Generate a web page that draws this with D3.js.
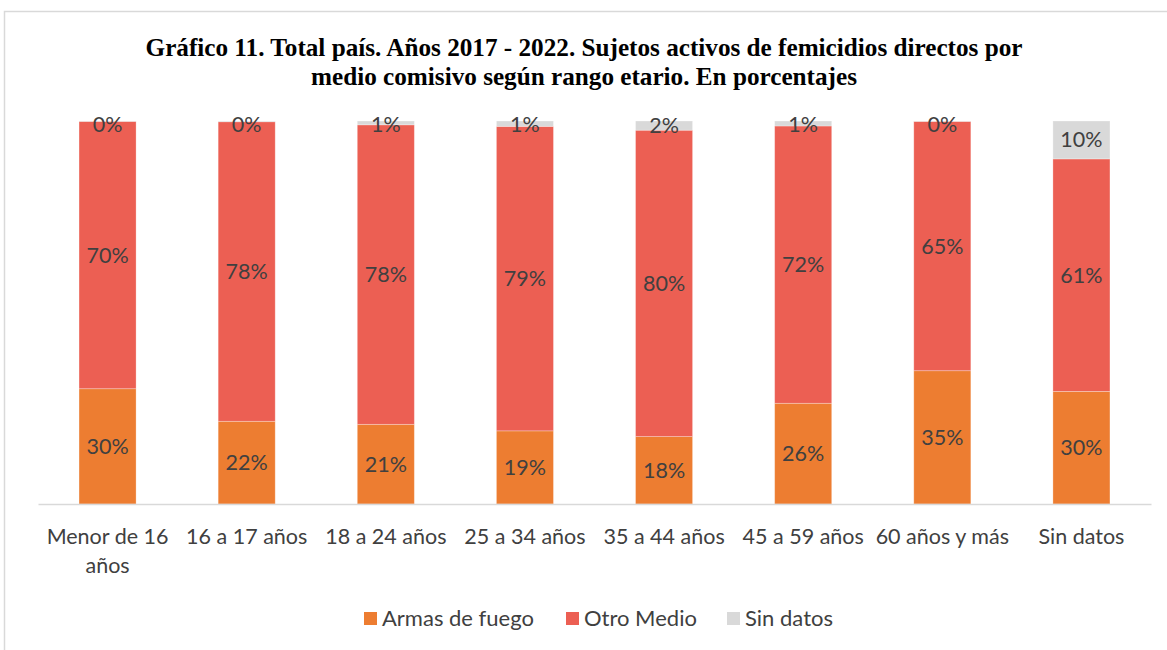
<!DOCTYPE html>
<html>
<head>
<meta charset="utf-8">
<script src="https://cdn.jsdelivr.net/npm/d3@7"></script>
<style>
  body { margin: 0; background: #fff; }
  svg text { font-family: Lato, "Open Sans", sans-serif; }
</style>
</head>
<body>
<div id="chart"></div>
<script>
const categories = ["Menor de 16 años", "16 a 17 años", "18 a 24 años", "25 a 34 años",
                    "35 a 44 años", "45 a 59 años", "60 años y más", "Sin datos"];
const armas = [30.1, 21.6, 20.8, 19.1, 17.6, 26.3, 34.8, 29.4];
const otro  = [69.8, 78.2, 78.2, 79.5, 80.0, 72.4, 65.1, 60.7];
const sinDatos = [0.1, 0.2, 1.0, 1.4, 2.4, 1.3, 0.1, 9.9];
const labelsArmas = ["30%", "22%", "21%", "19%", "18%", "26%", "35%", "30%"];
const labelsOtro  = ["70%", "78%", "78%", "79%", "80%", "72%", "65%", "61%"];
const labelsSin   = ["0%", "0%", "1%", "1%", "2%", "1%", "0%", "10%"];
const seriesNames = ["Armas de fuego", "Otro Medio", "Sin datos"];
const colors = ["#ed7d31", "#ec5f53", "#d9d9d9"];

const width = 1167, height = 650,
    margin = ({ top: 121, right: 16, bottom: 146, left: 38 });

const svg = d3.select("#chart")
    .append("svg")
    .attr("width", width)
    .attr("height", height);

// frame
svg.append("path")
    .attr("d", `M4.5,${height} V11.5 H${width}`)
    .attr("fill", "none")
    .attr("stroke", "#d9d9d9")
    .attr("stroke-width", 1.5);

svg.append("text")
    .attr("text-anchor", "middle")
    .style("font-family", "'Liberation Serif', serif")
    .style("font-weight", "bold")
    .style("font-size", "25.2px")
    .style("fill", "#000")
    .selectAll("tspan")
    .data(["Gráfico 11. Total país. Años 2017 - 2022. Sujetos activos de femicidios directos por",
           "medio comisivo según rango etario. En porcentajes"])
    .join("tspan")
    .attr("x", 584)
    .attr("y", (d, i) => 56 + i * 29)
    .text(d => d);

const data = categories.map((c, i) => ({
    cat: c, "Armas de fuego": armas[i], "Otro Medio": otro[i], "Sin datos": sinDatos[i],
    labels: [labelsArmas[i], labelsOtro[i], labelsSin[i]]
}));

const x = d3.scaleBand()
    .domain(categories)
    .range([margin.left, width - margin.right])
    .padding(0.59)
    .paddingOuter(0.295);

const y = d3.scaleLinear()
    .domain([0, 100])
    .range([height - margin.bottom, margin.top]);

const stack = d3.stack().keys(seriesNames)(data);

const layer = svg.selectAll(".layer")
    .data(stack)
    .join("g")
    .attr("class", "layer")
    .attr("fill", (d, i) => colors[i]);

layer.selectAll("rect")
    .data(d => d)
    .join("rect")
    .attr("x", d => x(d.data.cat))
    .attr("width", x.bandwidth())
    .attr("y", d => y(d[1]))
    .attr("height", d => y(d[0]) - y(d[1]))
    .attr("stroke", "#fff")
    .attr("stroke-opacity", 0.35)
    .attr("stroke-width", 0.8);

stack.forEach((s, si) => {
    svg.append("g").selectAll("text")
        .data(s)
        .join("text")
        .attr("x", d => x(d.data.cat) + x.bandwidth() / 2)
        .attr("y", d => Math.max((y(d[0]) + y(d[1])) / 2, y(100) + 3))
        .attr("dy", "0.35em")
        .attr("text-anchor", "middle")
        .style("font-size", "21.5px")
        .style("fill", "#404040")
        .text(d => d.data.labels[si]);
});

// x axis
const xAxis = g => g
    .attr("transform", `translate(0, ${height - margin.bottom})`)
    .call(d3.axisBottom(x).tickSize(0).tickPadding(0))
    .call(g => g.select(".domain").attr("stroke", "#d9d9d9").attr("stroke-width", 1.5));

const gx = svg.append("g").call(xAxis);
gx.selectAll(".tick text").remove();
gx.selectAll(".tick").each(function(d) {
    const t = d3.select(this).append("text")
        .attr("text-anchor", "middle")
        .attr("fill", "#404040")
        .style("font-size", "21.5px");
    const lines = d === "Menor de 16 años" ? ["Menor de 16", "años"] : [d];
    t.selectAll("tspan").data(lines).join("tspan")
        .attr("x", 0)
        .attr("y", (l, i) => 40 + i * 29)
        .text(l => l);
});

// legend
const legendX = [364, 566, 727];
const legend = svg.append("g").selectAll("g")
    .data(seriesNames)
    .join("g")
    .attr("transform", (d, i) => `translate(${legendX[i]}, 618)`);

legend.append("rect")
    .attr("x", 0).attr("y", -6)
    .attr("width", 13).attr("height", 13)
    .attr("fill", (d, i) => colors[i]);

legend.append("text")
    .attr("x", 18)
    .attr("dy", "0.35em")
    .style("font-size", "22px")
    .style("fill", "#404040")
    .text(d => d);
</script>
</body>
</html>
